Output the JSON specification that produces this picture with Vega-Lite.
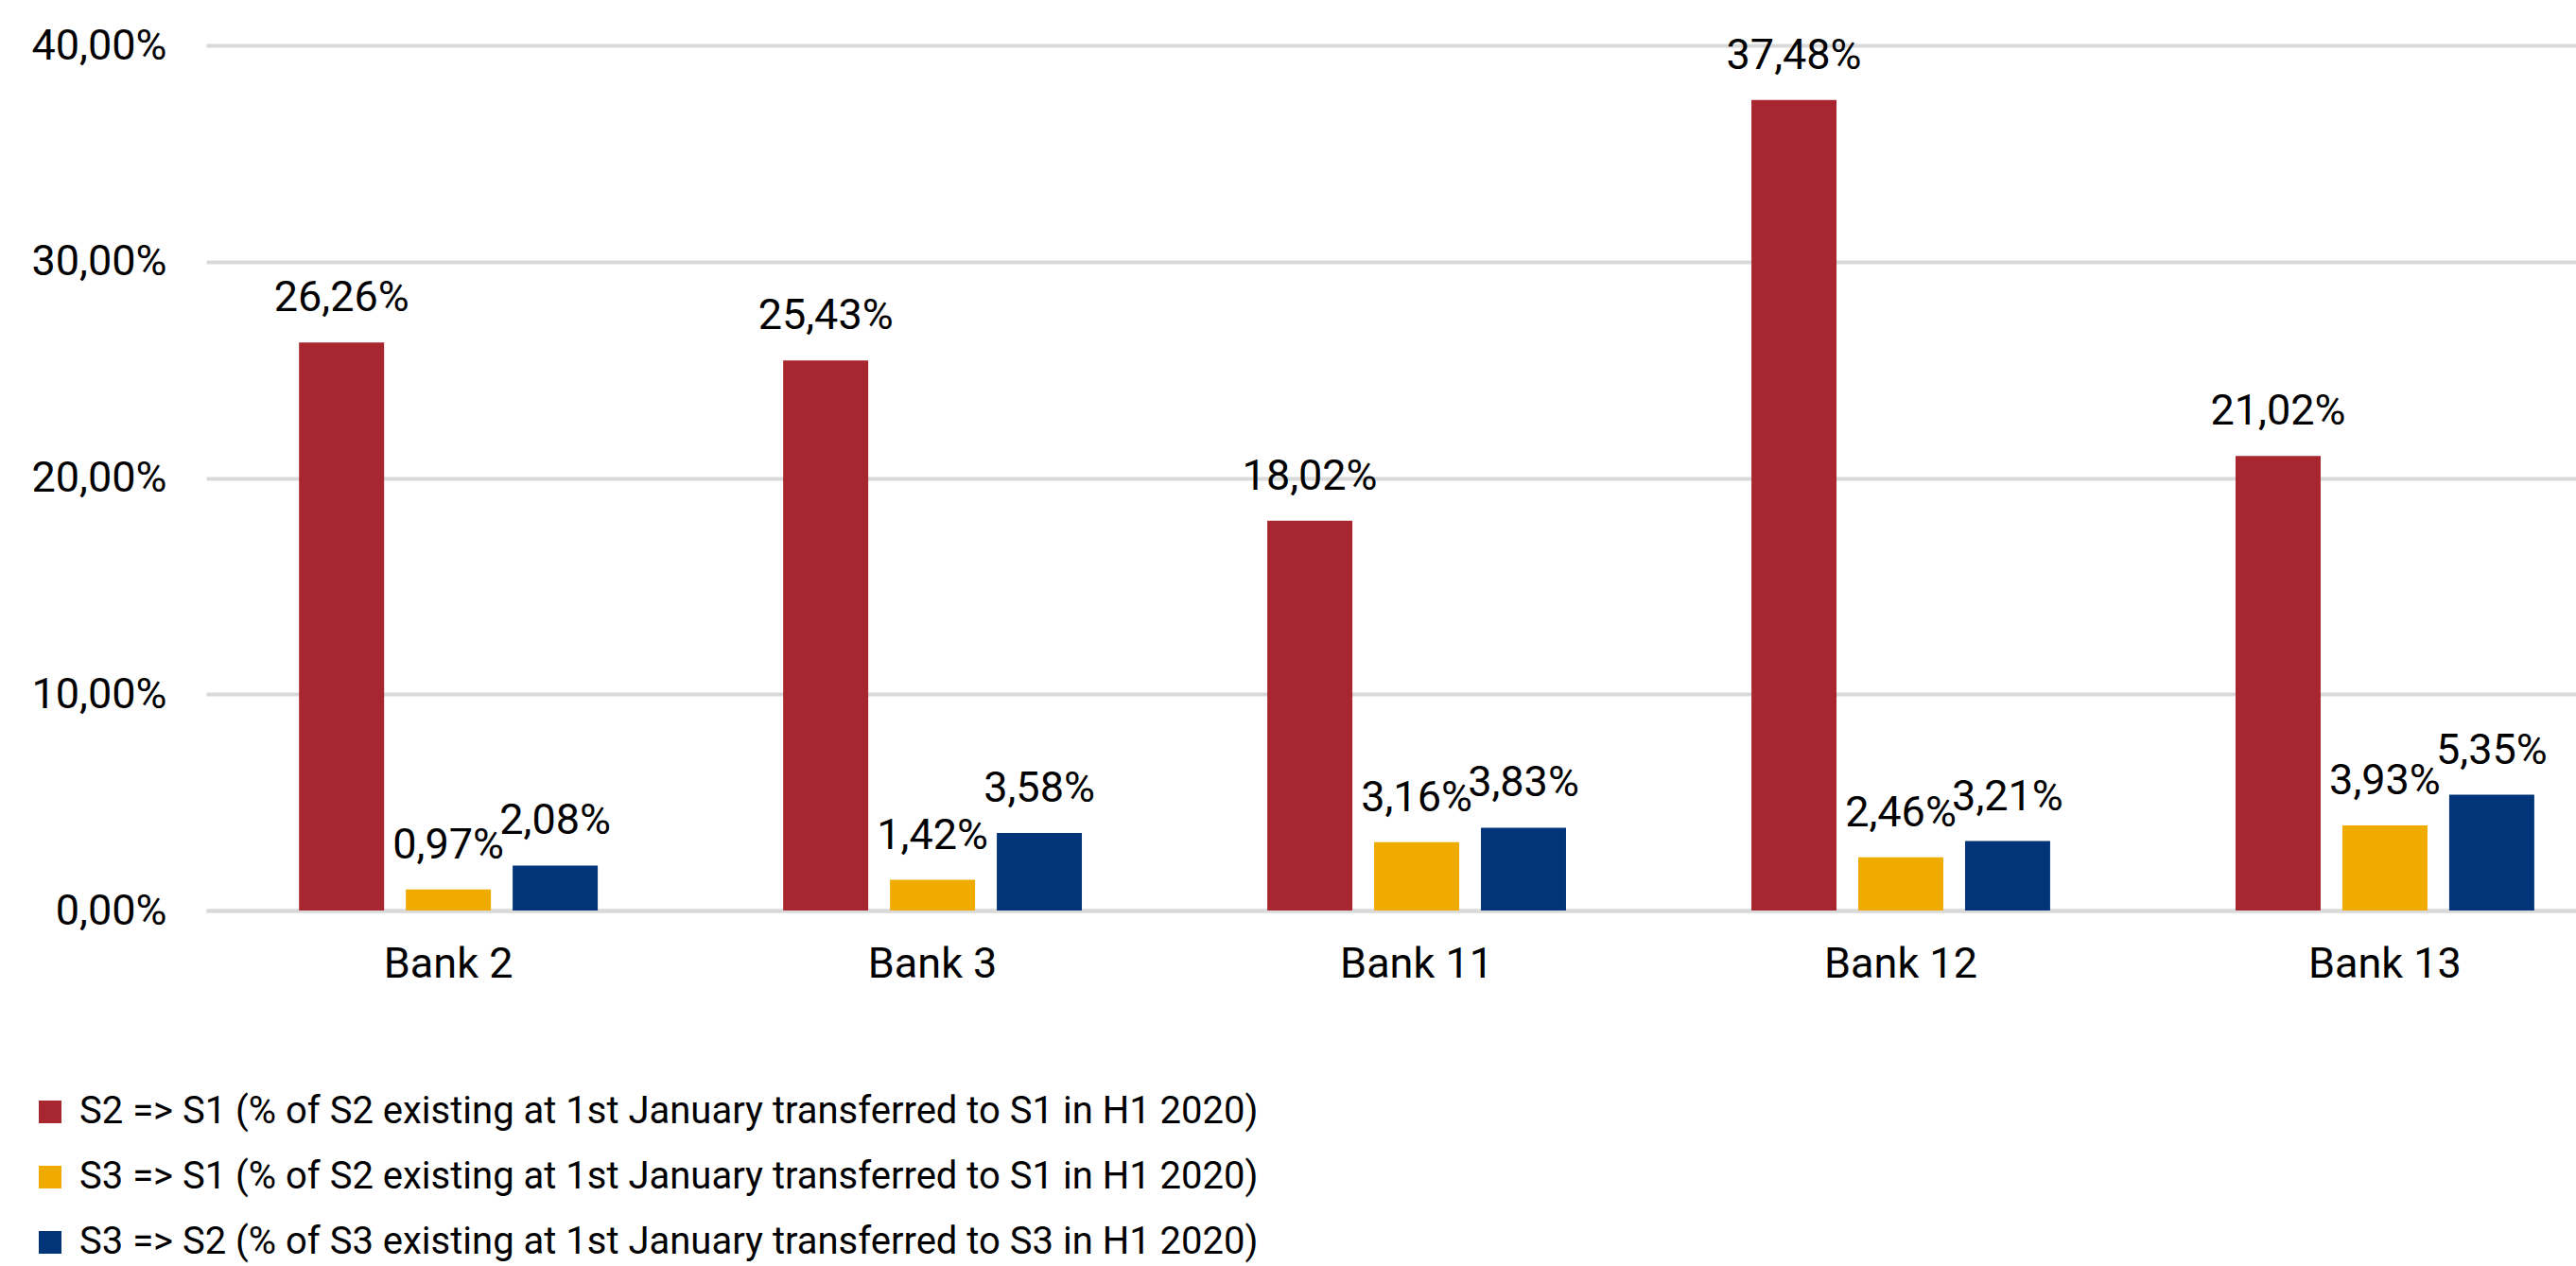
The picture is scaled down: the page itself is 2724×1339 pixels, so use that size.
{
  "$schema": "https://vega.github.io/schema/vega-lite/v6.json",
  "width": 2506,
  "height": 915,
  "autosize": {"type": "none"},
  "padding": {"left": 218, "top": 48, "right": 0, "bottom": 376},
  "config": {
    "locale": {"number": {"decimal": ",", "thousands": ".", "grouping": [3], "currency": ["", " €"]}},
    "view": {"stroke": null},
    "font": "Roboto"
  },
  "data": {
    "values": [
      {"bank": "Bank 2", "series": "S2 => S1 (% of S2 existing at 1st January transferred to S1 in H1 2020)", "value": 0.2626},
      {"bank": "Bank 2", "series": "S3 => S1 (% of S2 existing at 1st January transferred to S1 in H1 2020)", "value": 0.0097},
      {"bank": "Bank 2", "series": "S3 => S2 (% of S3 existing at 1st January transferred to S3 in H1 2020)", "value": 0.0208},
      {"bank": "Bank 3", "series": "S2 => S1 (% of S2 existing at 1st January transferred to S1 in H1 2020)", "value": 0.2543},
      {"bank": "Bank 3", "series": "S3 => S1 (% of S2 existing at 1st January transferred to S1 in H1 2020)", "value": 0.0142},
      {"bank": "Bank 3", "series": "S3 => S2 (% of S3 existing at 1st January transferred to S3 in H1 2020)", "value": 0.0358},
      {"bank": "Bank 11", "series": "S2 => S1 (% of S2 existing at 1st January transferred to S1 in H1 2020)", "value": 0.1802},
      {"bank": "Bank 11", "series": "S3 => S1 (% of S2 existing at 1st January transferred to S1 in H1 2020)", "value": 0.0316},
      {"bank": "Bank 11", "series": "S3 => S2 (% of S3 existing at 1st January transferred to S3 in H1 2020)", "value": 0.0383},
      {"bank": "Bank 12", "series": "S2 => S1 (% of S2 existing at 1st January transferred to S1 in H1 2020)", "value": 0.3748},
      {"bank": "Bank 12", "series": "S3 => S1 (% of S2 existing at 1st January transferred to S1 in H1 2020)", "value": 0.0246},
      {"bank": "Bank 12", "series": "S3 => S2 (% of S3 existing at 1st January transferred to S3 in H1 2020)", "value": 0.0321},
      {"bank": "Bank 13", "series": "S2 => S1 (% of S2 existing at 1st January transferred to S1 in H1 2020)", "value": 0.2102},
      {"bank": "Bank 13", "series": "S3 => S1 (% of S2 existing at 1st January transferred to S1 in H1 2020)", "value": 0.0393},
      {"bank": "Bank 13", "series": "S3 => S2 (% of S3 existing at 1st January transferred to S3 in H1 2020)", "value": 0.0535}
    ]
  },
  "encoding": {
    "x": {
      "field": "bank", "type": "nominal",
      "sort": ["Bank 2", "Bank 3", "Bank 11", "Bank 12", "Bank 13"],
      "scale": {"paddingInner": 0.383, "paddingOuter": 0.139, "align": 0.69},
      "axis": {"title": null, "labelAngle": 0, "ticks": false, "labelPadding": 34, "labelFontSize": 45, "labelColor": "#000000", "domainColor": "#D9D9D9", "domainWidth": 4, "grid": false}
    },
    "xOffset": {
      "field": "series", "type": "nominal",
      "sort": [
        "S2 => S1 (% of S2 existing at 1st January transferred to S1 in H1 2020)",
        "S3 => S1 (% of S2 existing at 1st January transferred to S1 in H1 2020)",
        "S3 => S2 (% of S3 existing at 1st January transferred to S3 in H1 2020)"
      ],
      "scale": {"paddingInner": 0.2035, "paddingOuter": 0}
    },
    "y": {
      "field": "value", "type": "quantitative",
      "scale": {"domain": [0, 0.4]},
      "axis": {"title": null, "format": ".2%", "values": [0, 0.1, 0.2, 0.3, 0.4], "ticks": false, "domain": false, "labelPadding": 42, "labelFontSize": 45, "labelColor": "#000000", "gridColor": "#D9D9D9", "gridWidth": 4}
    }
  },
  "layer": [
    {
      "mark": {"type": "bar"},
      "encoding": {
        "color": {
          "field": "series", "type": "nominal",
          "scale": {
            "domain": [
              "S2 => S1 (% of S2 existing at 1st January transferred to S1 in H1 2020)",
              "S3 => S1 (% of S2 existing at 1st January transferred to S1 in H1 2020)",
              "S3 => S2 (% of S3 existing at 1st January transferred to S3 in H1 2020)"
            ],
            "range": ["#A82630", "#F0AB00", "#023479"]
          },
          "legend": {
            "title": null, "orient": "none", "legendX": -185, "legendY": 1108,
            "direction": "vertical",
            "symbolType": "square", "symbolSize": 576, "symbolStrokeWidth": 0, "symbolOpacity": 1,
            "labelFontSize": 40, "labelColor": "#000000", "labelOffset": 11, "labelLimit": 3000,
            "rowPadding": 29, "padding": 0
          }
        }
      }
    },
    {
      "mark": {"type": "text", "baseline": "alphabetic", "dy": -33, "fontSize": 45, "color": "#000000"},
      "encoding": {
        "text": {"field": "value", "type": "quantitative", "format": ".2%"}
      }
    }
  ]
}
